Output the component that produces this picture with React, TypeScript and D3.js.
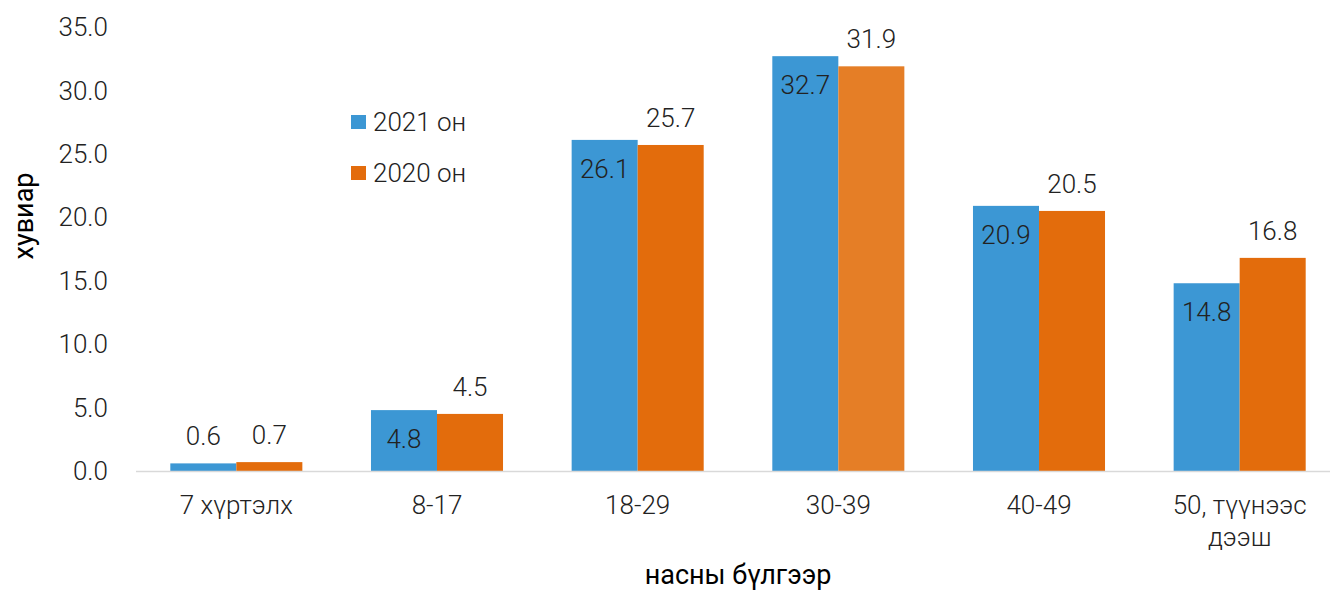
import * as d3 from "d3";

const categories = ["7 хүртэлх", "8-17", "18-29", "30-39", "40-49", "50, түүнээс дээш"];
const categoryLines = [["7 хүртэлх"], ["8-17"], ["18-29"], ["30-39"], ["40-49"], ["50, түүнээс", "дээш"]];
const seriesNames = ["2021 он", "2020 он"];
const values2021 = [0.6, 4.8, 26.1, 32.7, 20.9, 14.8];
const values2020 = [0.7, 4.5, 25.7, 31.9, 20.5, 16.8];
const yTicks = [0, 5, 10, 15, 20, 25, 30, 35];

const BLUE = "#3c97d4";
const ORANGE = "#e36c0c";
const ORANGE_HI = "#e57e26";
const FONT = "Roboto, sans-serif";
const FS = 26;

const W = 1330;
const H = 592;

const App = () => {
  const x = d3.scaleBand<string>().domain(categories).range([136, 1340]).paddingInner(0.342).paddingOuter(0.171);
  const xs = d3.scaleBand<string>().domain(seriesNames).range([0, x.bandwidth()]);
  const y = d3.scaleLinear().domain([0, 35]).range([471, 27]);

  const series = [
    { name: seriesNames[0], values: values2021, color: BLUE },
    { name: seriesNames[1], values: values2020, color: ORANGE },
  ];

  return (
    <svg width={W} height={H} style={{ position: "absolute", left: 0, top: 0, background: "#fff" }}>
      {/* y tick labels */}
      {yTicks.map((t) => (
        <text key={t} x={108} y={y(t)} dy="0.35em" textAnchor="end" fontFamily={FONT} fontWeight={300} fontSize={FS} fill="#222">
          {t.toFixed(1)}
        </text>
      ))}

      {/* bars */}
      {series.map((s, si) =>
        s.values.map((v, i) => {
          const bx = (x(categories[i]) as number) + (xs(s.name) as number);
          const hi = si === 1 && i === 3;
          return (
            <rect
              key={s.name + i}
              x={bx}
              y={y(v)}
              width={xs.bandwidth()}
              height={y(0) - y(v)}
              fill={hi ? ORANGE_HI : s.color}
            />
          );
        })
      )}

      {/* zero line */}
      <line x1={136} x2={W} y1={y(0) + 0.5} y2={y(0) + 0.5} stroke="#d9d9d9" strokeWidth={1.5} />

      {/* value labels */}
      {series.map((s, si) =>
        s.values.map((v, i) => {
          const cx = (x(categories[i]) as number) + (xs(s.name) as number) + xs.bandwidth() / 2;
          const inside = si === 0 && v > 3;
          const ly = inside ? y(v) + 29 : y(v) - 27;
          return (
            <text key={"l" + s.name + i} x={cx} y={ly} dy="0.35em" textAnchor="middle" fontFamily={FONT} fontWeight={300} fontSize={FS} fill="#222">
              {v.toFixed(1)}
            </text>
          );
        })
      )}

      {/* category labels */}
      {categories.map((c, i) => (
        <text key={c} x={(x(c) as number) + x.bandwidth() / 2} y={505} textAnchor="middle" fontFamily={FONT} fontWeight={300} fontSize={FS} fill="#222">
          {categoryLines[i].map((ln, j) => (
            <tspan key={j} x={(x(c) as number) + x.bandwidth() / 2} dy={j === 0 ? "0.35em" : 32}>
              {ln}
            </tspan>
          ))}
        </text>
      ))}

      {/* legend */}
      {series.map((s, si) => (
        <g key={"lg" + si} transform={`translate(351, ${122 + si * 51})`}>
          <rect x={0} y={-7} width={15} height={14} fill={s.color} />
          <text x={22} y={0} dy="0.35em" fontFamily={FONT} fontWeight={300} fontSize={FS} fill="#222">
            {s.name}
          </text>
        </g>
      ))}

      {/* axis titles */}
      <text transform="translate(24, 216) rotate(-90)" dy="0.35em" textAnchor="middle" fontFamily={FONT} fontSize={27} fill="#000">
        хувиар
      </text>
      <text x={738} y={584} textAnchor="middle" fontFamily={FONT} fontSize={27} fill="#000">
        насны бүлгээр
      </text>
    </svg>
  );
};

export default App;
